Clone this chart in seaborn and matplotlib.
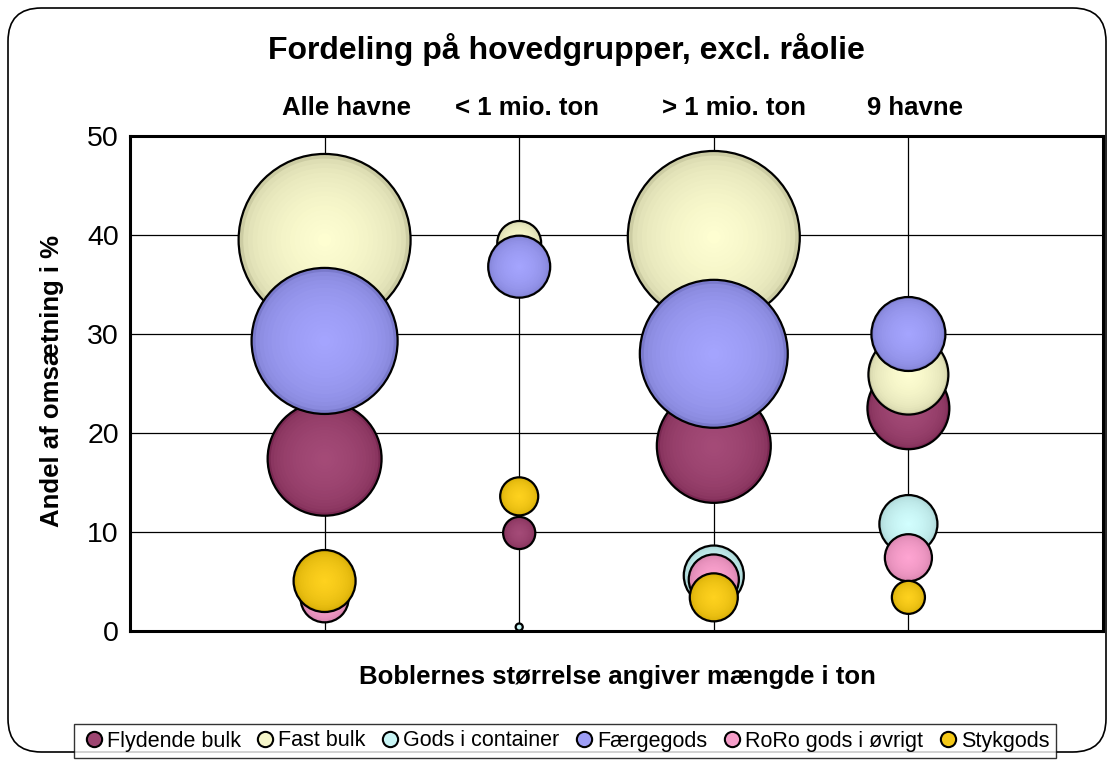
"""
Boblediagram: fordeling paa hovedgrupper, excl. raaolie.
"""

import numpy as np
import pandas as pd
import seaborn as sns
import matplotlib.pyplot as plt
from matplotlib.colors import to_rgb
from matplotlib.lines import Line2D
from matplotlib.patches import FancyBboxPatch

# Data:
havne = ['Alle havne', '< 1 mio. ton', '> 1 mio. ton', '9 havne']
grupper = ['Flydende bulk', 'Fast bulk', 'Gods i container', 'Færgegods',
           'RoRo gods i øvrigt', 'Stykgods']

# andel af omsaetning i % (y), one list per group, in havne order
andel_flydende = [17.4, 9.9, 18.7, 22.5]
andel_fast = [39.5, 39.2, 39.8, 25.9]
andel_container = [5.0, 0.4, 5.6, 10.8]
andel_faerge = [29.3, 36.8, 28.0, 30.0]
andel_roro = [3.3, None, 5.2, 7.4]
andel_styk = [5.05, 13.6, 3.4, 3.4]

# maengde (relative bubble size, largest = 100)
maengde_flydende = [43.9, 3.5, 43.9, 22.7]
maengde_fast = [100.0, 6.5, 100.0, 21.6]
maengde_container = [11.4, 0.17, 12.2, 11.4]
maengde_faerge = [72.1, 13.0, 74.0, 18.5]
maengde_roro = [7.8, None, 8.5, 7.5]
maengde_styk = [13.0, 4.9, 7.8, 3.7]

farver = ['#993366', '#FFFFCC', '#CCFFFF', '#9999FF', '#FF99CC', '#FFCC00']

andele = [andel_flydende, andel_fast, andel_container, andel_faerge,
          andel_roro, andel_styk]
maengder = [maengde_flydende, maengde_fast, maengde_container,
            maengde_faerge, maengde_roro, maengde_styk]

# Build a long table, series by series (draw order as in Excel):
rows = []
for gruppe, andel, maengde in zip(grupper, andele, maengder):
    for i, havn in enumerate(havne):
        if andel[i] is None:
            continue
        rows.append({'x': i + 1, 'havn': havn, 'gruppe': gruppe,
                     'andel': andel[i], 'maengde': maengde[i]})
df = pd.DataFrame(rows)


def shade(color, t):
    """t = 0 at the bubble rim (darker), t = 1 in the centre (lighter)."""
    base = np.array(to_rgb(color))
    rim = base * 0.8
    centre = base + (1 - base) * 0.12
    return tuple(rim + (centre - rim) * t)


sns.set_style('white')
plt.rcParams['font.family'] = ['Liberation Sans', 'DejaVu Sans']
plt.rcParams['text.color'] = 'black'
plt.rcParams['xtick.color'] = 'black'
plt.rcParams['ytick.color'] = 'black'

W, H = 1109, 760
fig = plt.figure(figsize=(W / 100, H / 100), dpi=100)
ax = fig.add_axes([130 / W, 1 - 631 / H, (1103 - 130) / W, (631 - 136) / H])

# Diameter 172 px for maengde 100 -> s in points^2
smax = (172 * 0.72) ** 2
faktorer = np.linspace(1.0, 0.08, 18)

# Each series: shaded fill layers, then the black rim, before the next one
for gruppe, farve in zip(grupper, farver):
    sub = df[df['gruppe'] == gruppe]
    for f in faktorer:
        t = (1 - f) ** 0.35
        sns.scatterplot(data=sub, x='x', y='andel', size='maengde',
                        sizes=(0, smax * f ** 2), size_norm=(0, 100),
                        color=shade(farve, t), edgecolor='none', linewidth=0,
                        alpha=1, legend=False, ax=ax, zorder=3)
    sns.scatterplot(data=sub, x='x', y='andel', size='maengde',
                    sizes=(0, smax), size_norm=(0, 100), facecolor='none',
                    edgecolor='black', linewidth=1.6, legend=False, ax=ax,
                    zorder=3)

ax.set_xlim(0, 5)
ax.set_ylim(0, 50)
ax.set_xticks([1, 2, 3, 4])
ax.set_xticklabels([])
ax.set_yticks(range(0, 51, 10))
ax.tick_params(axis='both', length=0, labelsize=20.5, pad=8)
ax.grid(True, color='black', linewidth=0.9)
ax.set_axisbelow(True)
ax.set_xlabel('')
ax.set_ylabel('')
for side in ax.spines.values():
    side.set_color('black')
    side.set_linewidth(2.2)

# Titles and labels
fig.text(566 / W, 1 - 50 / H, 'Fordeling på hovedgrupper, excl. råolie',
         ha='center', va='center', fontsize=23, fontweight='bold')
label_x = [346, 527, 734, 915]
for lx, havn in zip(label_x, havne):
    fig.text(lx / W, 1 - 108 / H, havn, ha='center', va='center',
             fontsize=18.5, fontweight='bold')
fig.text(52 / W, 1 - 381 / H, 'Andel af omsætning i %', rotation=90,
         ha='center', va='center', fontsize=18.5, fontweight='bold')
fig.text(617 / W, 1 - 677 / H, 'Boblernes størrelse angiver mængde i ton',
         ha='center', va='center', fontsize=18.5, fontweight='bold')

# Legend
handles = [Line2D([], [], marker='o', linestyle='', markersize=11,
                  markerfacecolor=shade(c, 0.8), markeredgecolor='black',
                  markeredgewidth=1.5) for c in farver]
leg = fig.legend(handles, grupper, loc='center', ncol=6,
                 bbox_to_anchor=(565 / W, 1 - 741 / H), frameon=True,
                 fancybox=False, edgecolor='black',
                 handletextpad=0.0, columnspacing=0.55, borderpad=0.3,
                 handlelength=1.2, prop={'family': 'Liberation Sans',
                                         'size': 15.5})
leg.get_frame().set_linewidth(1.0)

# Rounded chart border
border = FancyBboxPatch((8 / W, 8 / H), 1098 / W, (H - 16) / H,
                        boxstyle='round,pad=0,rounding_size=0.03',
                        transform=fig.transFigure, facecolor='none',
                        edgecolor='black', linewidth=1.2,
                        mutation_aspect=W / H)
fig.patches.append(border)

fig.savefig('out.png', dpi=100, facecolor='white')
